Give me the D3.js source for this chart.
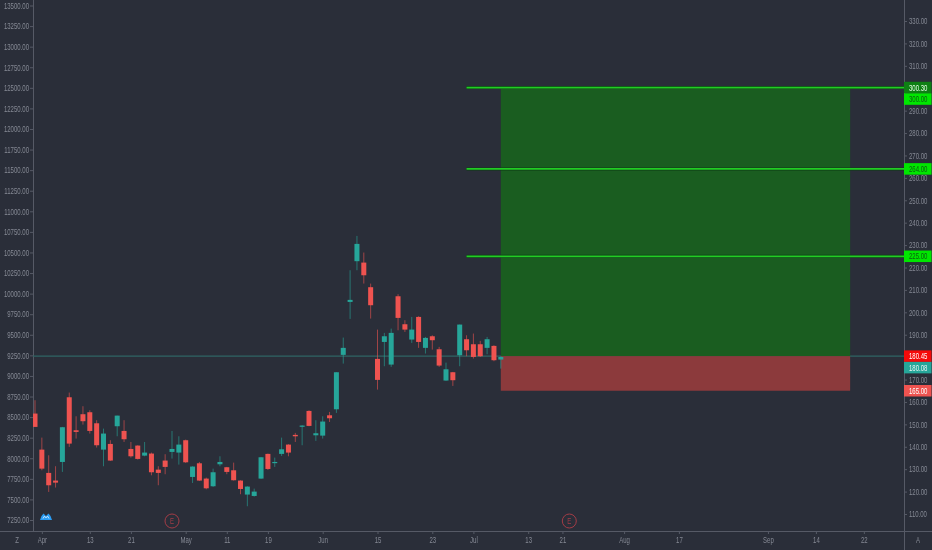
<!DOCTYPE html>
<html>
<head>
<meta charset="utf-8">
<script src="https://cdn.jsdelivr.net/npm/d3@7"></script>
<style>
html, body { margin: 0; padding: 0; background: #2a2e39; overflow: hidden; }
text { font-family: "Liberation Sans", sans-serif; }
svg { filter: blur(0.3px); }
</style>
</head>
<body>
<div id="chart"></div>
<script>
// candles, left axis price
var opens = [8543,8105,7822,7729,7955,8741,8340,8535,8559,8425,8105,8174,8389,8332,8113,8154,8032,8057,7862,7972,8077,8069,8219,7773,7939,7753,7660,7927,7891,7854,7729,7559,7542,7753,8053,7947,8053,8166,8284,8385,8575,8279,8275,8522,8595,9256,9899,10394,10377,10078,9207,9413,9138,9968,9628,9442,9717,9341,9482,9324,8944,9045,9251,9446,9385,9385,9341,9365,9199];
var highs = [8705,8251,8036,7903,8381,8798,8510,8632,8583,8462,8360,8219,8518,8462,8198,8158,8198,8069,7903,8049,8332,8267,8227,7903,7955,7765,7874,8024,7895,7947,7733,7660,7631,8016,8057,8008,8251,8170,8308,8401,8583,8462,8510,8563,9045,9466,10284,10701,10499,10122,9563,9523,9575,9993,9677,9717,9725,9474,9494,9353,9162,9049,9624,9494,9515,9426,9474,9373,9239];
var lows = [8381,7854,7591,7644,7834,8138,8239,8409,8300,8130,7903,7968,8267,8198,8008,7984,8024,7793,7672,7806,7996,7923,7943,7700,7725,7623,7652,7903,7806,7729,7563,7417,7534,7749,7858,7895,8028,8024,8198,8158,8389,8211,8239,8441,8551,9150,9693,10284,10122,9697,8834,9118,9110,9555,9535,9401,9341,9272,9320,9110,8940,8879,9118,9239,9211,9231,9264,9179,9089];
var closes = [8381,7874,7672,7704,8377,8178,8320,8450,8332,8158,8300,7972,8518,8231,8024,7992,8069,7830,7822,7895,8113,8166,7951,7899,7729,7635,7830,7955,7834,7733,7627,7656,7595,8012,7870,7955,8109,8069,8267,8397,8393,8304,8446,8486,9045,9341,9924,10604,10223,9859,8952,9482,9523,9705,9563,9563,9413,9462,9434,9126,9081,8948,9624,9312,9231,9239,9446,9191,9231];

// left axis
var leftTicks = d3.range(7250, 13501, 250);
// right axis
var rightTicks = d3.range(110, 331, 10);

// time axis, position is the bar number
var timeBars = [1, 8, 14, 22, 28, 34, 42, 50, 58, 64, 72, 77, 86, 94, 107, 114, 121];
var timeLabels = ["Apr", "13", "21", "May", "11", "19", "Jun", "15", "23", "Jul", "13", "21", "Aug", "17", "Sep", "14", "22"];

// long position drawing
var targetLevels = [300.30, 264.00, 225.00];
var entryLevel = 180.45;
var stopLevel = 165.00;
var positionStart = 68;
var positionEnd = 119;
var lineStart = 63;
var earningsBars = [20, 78];

// price tags on the right scale
var tagValues = [300.30, 300.00, 264.00, 225.00, 180.45, 180.08, 165.00];
var tagFills = ["#0e7f14", "#00e600", "#00e600", "#00e600", "#f50a0a", "#26a69a", "#ef5350"];
var tagColors = ["#e6ffe6", "#0b5c10", "#0b5c10", "#0b5c10", "#ffffff", "#e8f5f3", "#ffffff"];

var width = 932, height = 550;
var axisLeftX = 33, axisRightX = 904, axisBottomY = 531;

var bg = "#2a2e39", axisColor = "#565a66", textColor = "#858994";
var up = "#26a69a", down = "#ef5350";

var svg = d3.select("#chart")
    .append("svg")
    .attr("width", width)
    .attr("height", height)
    .style("display", "block");

svg.append("rect").attr("width", width).attr("height", height).attr("fill", bg);

svg.append("clipPath").attr("id", "plot")
    .append("rect")
    .attr("x", axisLeftX).attr("y", 0)
    .attr("width", axisRightX - axisLeftX).attr("height", axisBottomY);

var x = d3.scaleLinear().domain([0, 100]).range([35, 720]);
var yLeft = d3.scaleLinear().domain([13500, 7250]).range([5.5, 520]);
var yRight = d3.scaleLinear().domain([330, 110]).range([21, 514]);

// the labels in the picture are tall and narrow
function squeeze(sel) {
    sel.style("font-size", "8.6px")
        .attr("lengthAdjust", "spacingAndGlyphs")
        .attr("textLength", function () { return this.getComputedTextLength() * 0.7; });
}

function styleAxis(g) {
    g.select(".domain").attr("stroke", axisColor);
    g.selectAll(".tick line").attr("stroke", axisColor);
    g.selectAll(".tick text").attr("fill", textColor).call(squeeze);
}

// axes
svg.append("g")
    .attr("transform", "translate(" + axisLeftX + ",0)")
    .call(d3.axisLeft(yLeft).tickValues(leftTicks).tickSize(3).tickPadding(1).tickSizeOuter(0).tickFormat(d3.format(".2f")))
    .call(styleAxis)
    .call(function (g) { g.select(".domain").attr("d", "M0.5,0V" + axisBottomY); });

svg.append("g")
    .attr("transform", "translate(" + axisRightX + ",0)")
    .call(d3.axisRight(yRight).tickValues(rightTicks).tickSize(3).tickPadding(2).tickSizeOuter(0).tickFormat(d3.format(".2f")))
    .call(styleAxis)
    .call(function (g) { g.select(".domain").attr("d", "M0.5,0V" + height); });

svg.append("g")
    .attr("transform", "translate(0," + axisBottomY + ")")
    .call(d3.axisBottom(x).tickValues(timeBars).tickSize(3).tickPadding(3).tickSizeOuter(0).tickFormat(function (d, i) { return timeLabels[i]; }))
    .call(styleAxis)
    .call(function (g) { g.select(".domain").attr("d", "M0,0.5H" + width); });

// corner letters
svg.append("text").attr("x", 17).attr("y", 543).attr("text-anchor", "middle")
    .attr("fill", textColor).text("Z").call(squeeze);
svg.append("text").attr("x", 918).attr("y", 543).attr("text-anchor", "middle")
    .attr("fill", textColor).text("A").call(squeeze);

var plot = svg.append("g").attr("clip-path", "url(#plot)");

// last price line
plot.append("line")
    .attr("x1", axisLeftX).attr("x2", axisRightX)
    .attr("y1", yRight(entryLevel)).attr("y2", yRight(entryLevel))
    .attr("stroke", "#2f6464").attr("stroke-width", 1.2);

// position boxes
plot.append("rect")
    .attr("x", x(positionStart))
    .attr("width", x(positionEnd) - x(positionStart))
    .attr("y", yRight(targetLevels[0]))
    .attr("height", yRight(entryLevel) - yRight(targetLevels[0]))
    .attr("fill", "#1a5d20");

plot.append("rect")
    .attr("x", x(positionStart))
    .attr("width", x(positionEnd) - x(positionStart))
    .attr("y", yRight(entryLevel))
    .attr("height", yRight(stopLevel) - yRight(entryLevel))
    .attr("fill", "#8c3a3c");

// target lines
plot.selectAll(".halo")
    .data(targetLevels)
    .enter()
    .append("line")
    .attr("class", "halo")
    .attr("x1", x(lineStart)).attr("x2", axisRightX)
    .attr("y1", function (d) { return yRight(d); })
    .attr("y2", function (d) { return yRight(d); })
    .attr("stroke", "#0d3d14").attr("stroke-width", 3);

plot.selectAll(".target")
    .data(targetLevels)
    .enter()
    .append("line")
    .attr("class", "target")
    .attr("x1", x(lineStart)).attr("x2", axisRightX)
    .attr("y1", function (d) { return yRight(d); })
    .attr("y2", function (d) { return yRight(d); })
    .attr("stroke", "#22cc24").attr("stroke-width", 1.7);

// candles
var candles = plot.selectAll(".candle")
    .data(opens)
    .enter()
    .append("g")
    .attr("class", "candle");

function candleColor(i) { return closes[i] < opens[i] ? down : up; }

candles.append("line")
    .attr("x1", function (d, i) { return x(i); })
    .attr("x2", function (d, i) { return x(i); })
    .attr("y1", function (d, i) { return yLeft(highs[i]); })
    .attr("y2", function (d, i) { return yLeft(lows[i]); })
    .attr("stroke", function (d, i) { return candleColor(i); })
    .attr("stroke-opacity", 0.6)
    .attr("stroke-width", 1);

candles.append("rect")
    .attr("x", function (d, i) { return x(i) - 2.5; })
    .attr("width", 5)
    .attr("y", function (d, i) { return yLeft(Math.max(opens[i], closes[i])); })
    .attr("height", function (d, i) { return Math.max(1.2, Math.abs(yLeft(opens[i]) - yLeft(closes[i]))); })
    .attr("fill", function (d, i) { return candleColor(i); });

// earnings markers
var earnings = svg.selectAll(".earn")
    .data(earningsBars)
    .enter()
    .append("g")
    .attr("class", "earn")
    .attr("transform", function (d) { return "translate(" + x(d) + ",521)"; });

earnings.append("circle").attr("r", 7).attr("fill", "none").attr("stroke", "#a33c46").attr("stroke-width", 1);
earnings.append("text").attr("text-anchor", "middle").attr("y", 3).attr("fill", "#a33c46")
    .text("E").call(squeeze);

// logo
var logo = svg.append("g").attr("transform", "translate(40,512.5)");
logo.append("path")
    .attr("d", "M0,7.5 L1.5,3.5 L3.5,1 L6,3.5 L8.5,1 L10.5,3.5 L12,7.5 Z")
    .attr("fill", "#2a9df4");
logo.append("path")
    .attr("d", "M3,6 L4.5,3.6 L6,5.4 L7.5,3.6 L9,6")
    .attr("fill", "none").attr("stroke", "#d6ecff").attr("stroke-width", 0.9);

// price tags, pushed down when two would overlap
var tagHeight = 11.5;
var tagY = [];
tagValues.forEach(function (v, i) {
    var py = yRight(v);
    if (i > 0 && py < tagY[i - 1] + tagHeight) { py = tagY[i - 1] + tagHeight; }
    tagY.push(py);
});

var tags = svg.selectAll(".tag")
    .data(tagValues)
    .enter()
    .append("g")
    .attr("class", "tag")
    .attr("transform", function (d, i) { return "translate(" + axisRightX + "," + tagY[i] + ")"; });

tags.append("rect")
    .attr("x", 0).attr("y", -tagHeight / 2)
    .attr("width", width - axisRightX - 0.5).attr("height", tagHeight)
    .attr("fill", function (d, i) { return tagFills[i]; });

tags.append("text")
    .attr("x", 5).attr("y", 3)
    .attr("fill", function (d, i) { return tagColors[i]; })
    .text(function (d) { return d.toFixed(2); })
    .call(squeeze);
</script>
</body>
</html>
